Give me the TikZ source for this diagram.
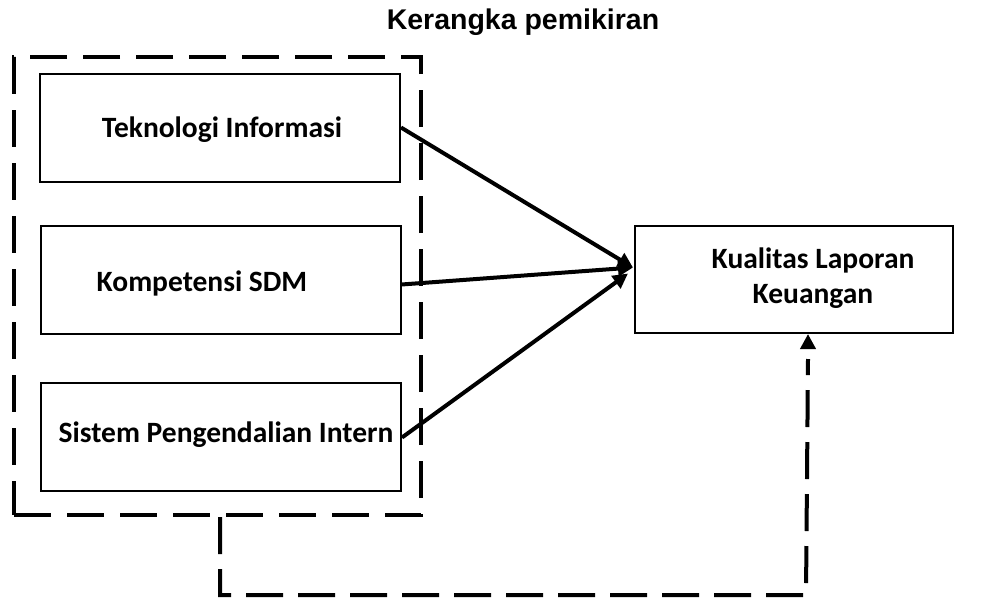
\documentclass[tikz,border=0pt]{standalone}
\usepackage{fontspec}
\setmainfont{Carlito}
\newfontfamily\titlefont{Liberation Sans}
\usetikzlibrary{arrows.meta,calc}
\begin{document}
\begin{tikzpicture}[x=1pt,y=-1pt,
  box/.style={draw,line width=2pt,minimum width=360pt,minimum height=108pt,inner sep=0pt},
  lbl/.style={font=\fontsize{29.5}{35}\selectfont\bfseries,align=center,inner sep=0pt},
  groupbox/.style={draw,line width=4pt,dash pattern=on 37pt off 16pt,minimum width=407pt,minimum height=458pt,inner sep=0pt},
  conn/.style={line width=4pt,-{Triangle[length=15pt,width=15pt]}},
  dline/.style={line width=4pt,dash pattern=on 37pt off 15pt}
]
\useasboundingbox (0,0) rectangle (984,600);
\node[font=\titlefont\fontsize{28.5}{34}\selectfont\bfseries,inner sep=0pt] (title) at (523,22) {Kerangka pemikiran};
\node[groupbox] (grp) at (217.5,286) {};
\node[box] (ti) at (220,127.5) {};
\node[lbl] (tit) at (222,130) {Teknologi Informasi};
\node[box] (ks) at (220.5,279.5) {};
\node[lbl] (kst) at (202,283) {Kompetensi SDM};
\node[box] (spi) at (221,436.5) {};
\node[lbl] (spit) at (226,435) {Sistem Pengendalian Intern};
\node[draw,line width=2pt,minimum width=318pt,minimum height=107pt,inner sep=0pt] (kl) at (794,279.5) {};
\node[lbl] (klt) at (813,278) {Kualitas Laporan\\Keuangan};
\draw[conn] (ti.east) -- ($(kl.west)+(-1,-12)$);
\draw[conn] ($(ks.east)+(0,5)$) -- ($(kl.west)+(-1,-12)$);
\draw[conn] ($(spi.east)+(0,1)$) -- ($(kl.west)+(-6,-6)$);
\coordinate (c1) at ($(grp.south)+(2.5,0)$);
\coordinate (c2) at (220,595);
\coordinate (c3) at (806,595);
\draw[dline] (c1) -- (c2) -- (c3) -- ($(kl.south)+(14,25)$);
\draw[line width=4pt,-{Triangle[length=15pt,width=15pt]}] ($(kl.south)+(14,14)$) -- ($(kl.south)+(14,0)$);
\end{tikzpicture}
\end{document}
